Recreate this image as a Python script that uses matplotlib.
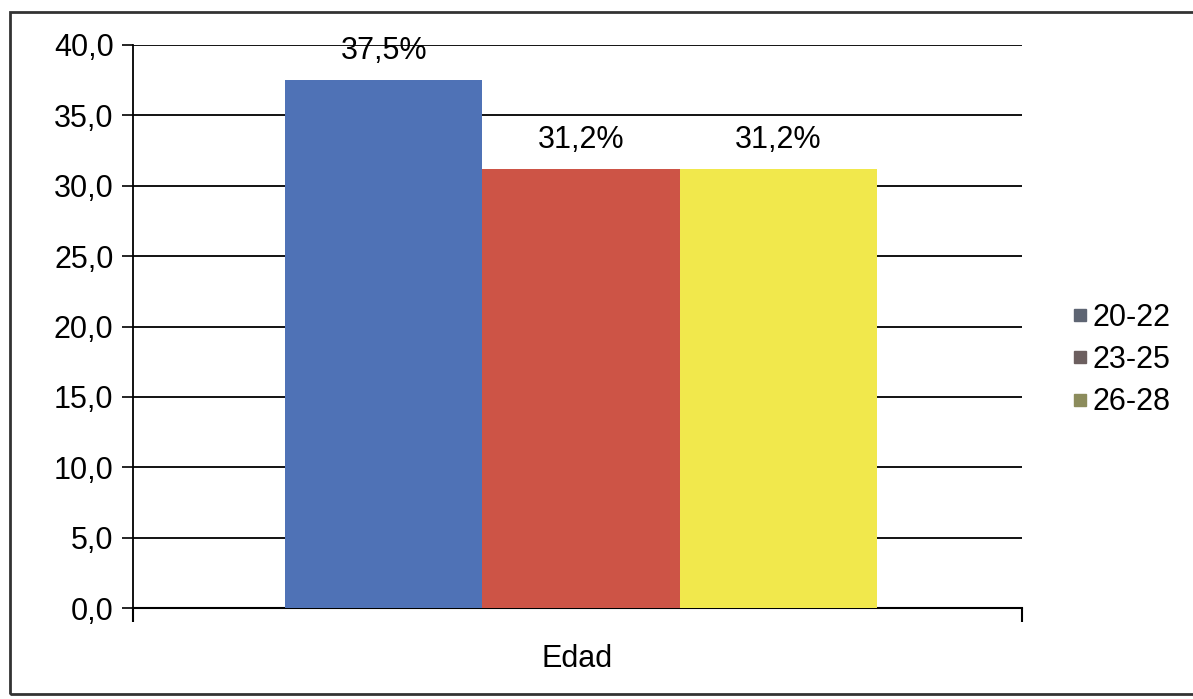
import matplotlib
matplotlib.use("Agg")
import matplotlib.pyplot as plt
from matplotlib.patches import Rectangle
from matplotlib.lines import Line2D

plt.rcParams['font.family'] = ['Liberation Sans', 'DejaVu Sans']

category = ["Edad"]
series = ["20-22", "23-25", "26-28"]
values = [37.5, 31.2, 31.2]
labels = ["37,5%", "31,2%", "31,2%"]
bar_colors = ["#4f72b6", "#cd5446", "#f1e84c"]
legend_colors = ["#5e6573", "#6c5f5f", "#8c8c5c"]
yticks = [0, 5, 10, 15, 20, 25, 30, 35, 40]

FS = 22

fig = plt.figure(figsize=(11.93, 6.99), dpi=100)
ax = fig.add_axes([133/1193, 1 - 608/699, (1022-133)/1193, (608-45)/699])

width = 0.222
offsets = [-width, 0, width]
shift = 0.004
for i, (s, v, c) in enumerate(zip(series, values, bar_colors)):
    bars = ax.bar(shift + offsets[i], v, width=width, color=c, zorder=3, label=s)
    ax.bar_label(bars, labels=[labels[i]], padding=10, fontsize=FS)

ax.set_xlim(-0.5, 0.5)
ax.set_ylim(0, 40)
ax.set_yticks(yticks)
ax.set_yticklabels([f"{t:.1f}".replace(".", ",") for t in yticks], fontsize=FS)
ax.yaxis.grid(True, color="black", linewidth=1.3, zorder=0)
ax.set_axisbelow(True)
ax.tick_params(axis="y", length=8, width=1.2, pad=6)

ax.set_xticks([-0.5, 0.5])
ax.set_xticklabels(["", ""])
ax.tick_params(axis="x", which="major", length=10, width=1.5)
ax.set_xticks([0], minor=True)
ax.set_xticklabels(category, minor=True, fontsize=FS)
ax.tick_params(axis="x", which="minor", length=0, pad=26)

for sp in ["top", "right"]:
    ax.spines[sp].set_visible(False)
ax.spines["left"].set_linewidth(1.3)
ax.spines["bottom"].set_linewidth(1.5)

handles = [Line2D([], [], marker="s", linestyle="", markersize=9,
                  markerfacecolor=c, markeredgecolor=c) for c in legend_colors]
fig.legend(handles, series, loc="center left", bbox_to_anchor=(1068/1193, 1 - 360/699),
           frameon=False, fontsize=FS, handletextpad=0.0, labelspacing=0.4,
           handlelength=0.8, borderpad=0, borderaxespad=0)

frame = Rectangle((10/1193, 1 - 694/699), 1.1, (694-12)/699, transform=fig.transFigure,
                  fill=False, edgecolor="#333333", linewidth=2.0, clip_on=False)
fig.patches.append(frame)

fig.savefig("out.png", dpi=100)
